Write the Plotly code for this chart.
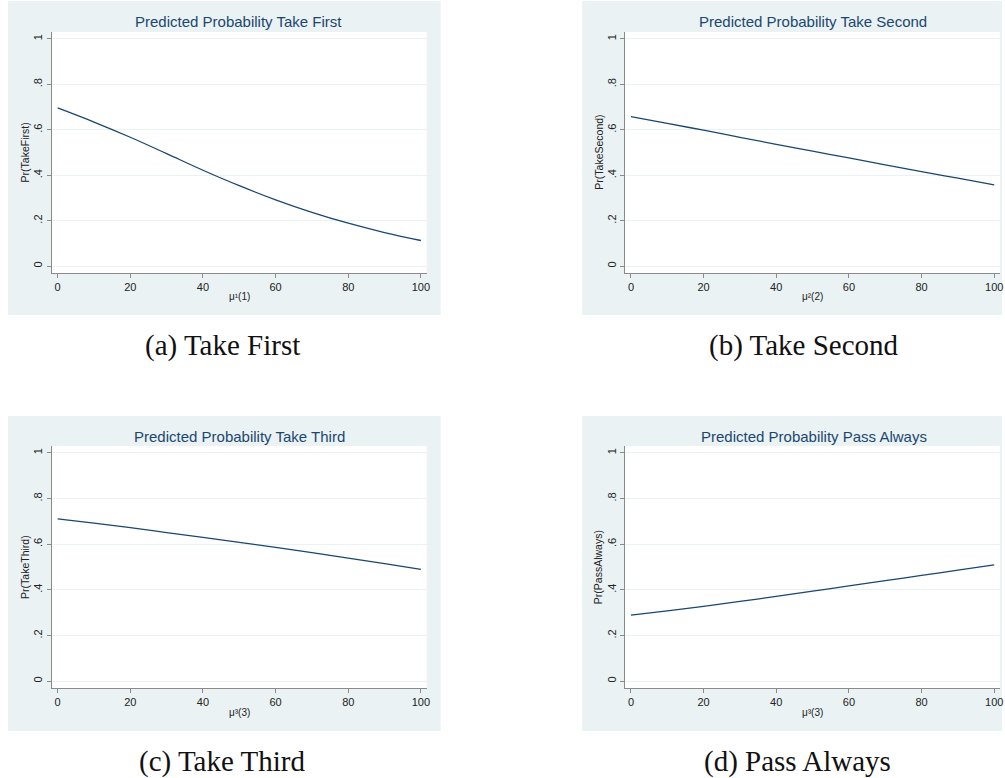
import plotly.graph_objects as go

W, H = 1005, 778

x_vals = [0, 10, 20, 30, 40, 50, 60, 70, 80, 90, 100]
take_first = [0.696, 0.634, 0.567, 0.495, 0.422, 0.354, 0.292, 0.237, 0.189, 0.148, 0.113]
take_second = [0.658, 0.628, 0.598, 0.567, 0.536, 0.506, 0.476, 0.446, 0.416, 0.387, 0.358]
take_third = [0.711, 0.692, 0.672, 0.651, 0.630, 0.608, 0.586, 0.563, 0.539, 0.515, 0.490]
pass_always = [0.289, 0.308, 0.328, 0.349, 0.371, 0.394, 0.417, 0.440, 0.463, 0.486, 0.509]

titles = ["Predicted Probability Take First", "Predicted Probability Take Second",
          "Predicted Probability Take Third", "Predicted Probability Pass Always"]
ytitles = ["Pr(TakeFirst)", "Pr(TakeSecond)", "Pr(TakeThird)", "Pr(PassAlways)"]
xtitles = ["\u03bc\u00b9(1)", "\u03bc\u00b2(2)", "\u03bc\u00b3(3)", "\u03bc\u00b3(3)"]
captions = ["(a) Take First", "(b) Take Second", "(c) Take Third", "(d) Pass Always"]
ytick_vals = [0, 0.2, 0.4, 0.6, 0.8, 1]
ytick_text = ["0", ".2", ".4", ".6", ".8", "1"]
xtick_vals = [0, 20, 40, 60, 80, 100]
series = [take_first, take_second, take_third, pass_always]

NAVY = "#1a476f"
BG = "#eaf2f3"

# panel pixel geometry: (bg_x0, bg_x1, bg_y0, bg_y1, plot_x0, plot_x1, plot_y0, plot_y1)
panels = [
    (8, 442, 1, 315, 52, 428, 32, 273),
    (584, 1005, 1, 315, 627, 1003, 32, 273),
    (8, 442, 416, 731, 52, 428, 446, 688),
    (584, 1005, 416, 731, 627, 1003, 446, 688),
]
title_cx = [239, 815, 240, 816]
caption_cx = [223, 806, 223, 800]

fig = go.Figure()
shapes = []
annotations = []

def fx(px):
    return px / W

def fy(py):
    return 1 - py / H

for i, (bx0, bx1, by0, by1, px0, px1, py0, py1) in enumerate(panels):
    n = "" if i == 0 else str(i + 1)
    fig.add_trace(go.Scatter(x=x_vals, y=series[i], mode="lines",
                             line=dict(color=NAVY, width=1.3, shape="spline"),
                             xaxis="x" + n, yaxis="y" + n, showlegend=False,
                             hoverinfo="skip"))
    shapes.append(dict(type="rect", xref="paper", yref="paper",
                       x0=fx(bx0), x1=fx(bx1), y0=fy(by1), y1=fy(by0),
                       fillcolor=BG, line=dict(width=0), layer="below"))
    shapes.append(dict(type="rect", xref="paper", yref="paper",
                       x0=fx(px0), x1=fx(px1), y0=fy(py1), y1=fy(py0),
                       fillcolor="white", line=dict(width=0), layer="below"))
    fig.update_layout(**{
        "xaxis" + n: dict(domain=[fx(px0), fx(px1)], range=[-1.6, 101.6],
                          anchor="y" + n, tickvals=xtick_vals,
                          showgrid=False, zeroline=False,
                          showline=True, linecolor="#8a8a8a", linewidth=1,
                          ticks="outside", ticklen=4, tickcolor="#8a8a8a",
                          tickfont=dict(family="Liberation Sans", size=11, color="#222")),
        "yaxis" + n: dict(domain=[fy(py1), fy(py0)], range=[-0.03, 1.03],
                          anchor="x" + n, tickvals=ytick_vals, ticktext=ytick_text,
                          tickangle=-90, showgrid=True, gridcolor=BG, gridwidth=1.2,
                          zeroline=False,
                          showline=True, linecolor="#8a8a8a", linewidth=1,
                          ticks="outside", ticklen=4, tickcolor="#8a8a8a",
                          tickfont=dict(family="Liberation Sans", size=11, color="#222")),
    })
    annotations.append(dict(text=titles[i], xref="paper", yref="paper",
                            x=fx(title_cx[i]), y=fy(py0 - 10),
                            xanchor="center", yanchor="middle", showarrow=False,
                            font=dict(family="Liberation Sans", size=15, color=NAVY)))
    annotations.append(dict(text=ytitles[i], xref="paper", yref="paper",
                            x=fx(px0 - 27), y=fy((py0 + py1) / 2), textangle=-90,
                            xanchor="center", yanchor="middle", showarrow=False,
                            font=dict(family="Liberation Sans", size=10.5, color="#222")))
    annotations.append(dict(text=xtitles[i], xref="paper", yref="paper",
                            x=fx((px0 + px1) / 2), y=fy(py1 + 24),
                            xanchor="center", yanchor="middle", showarrow=False,
                            font=dict(family="Liberation Sans", size=10, color="#222")))
    annotations.append(dict(text=captions[i], xref="paper", yref="paper",
                            x=fx(caption_cx[i]), y=fy(by1 + 30),
                            xanchor="center", yanchor="middle", showarrow=False,
                            font=dict(family="Liberation Serif", size=29, color="#111")))

fig.update_layout(width=W, height=H, margin=dict(l=0, r=0, t=0, b=0),
                  paper_bgcolor="white", plot_bgcolor="white",
                  shapes=shapes, annotations=annotations, showlegend=False)

fig.write_html("out.html", config={"displayModeBar": False},
               post_script="document.body.style.margin='0';document.body.style.overflow='hidden';")
